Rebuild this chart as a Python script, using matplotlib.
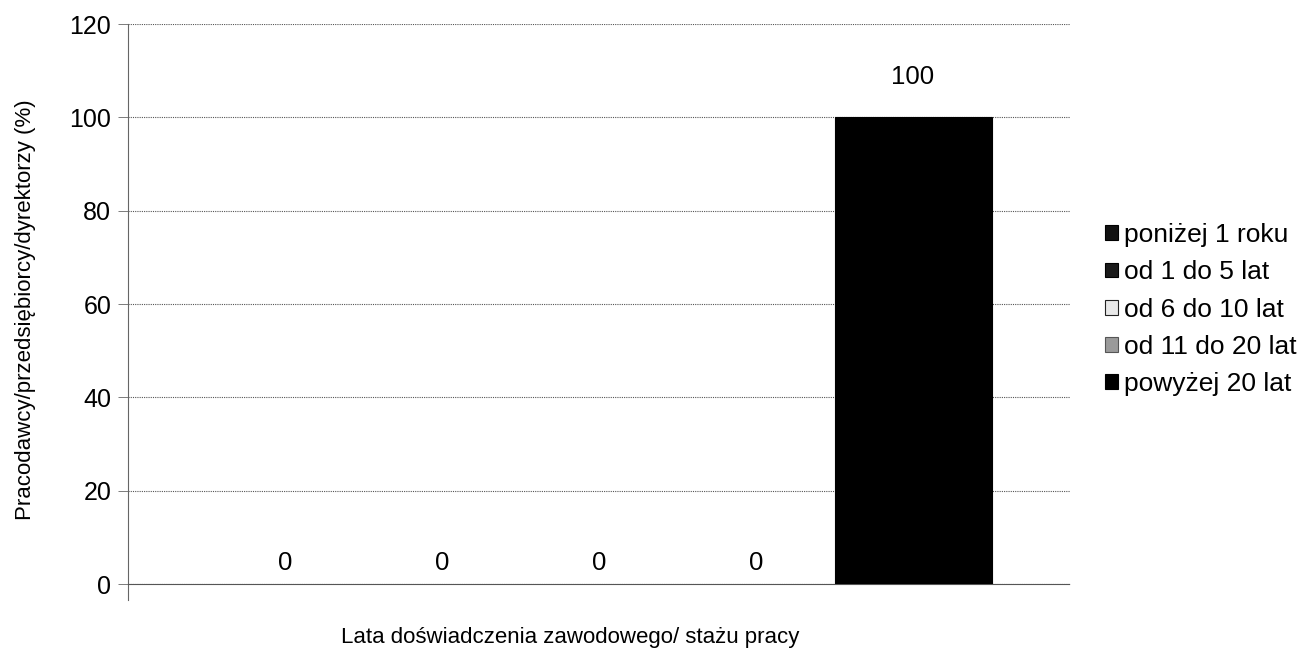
import matplotlib
matplotlib.use("Agg")
import matplotlib.pyplot as plt

series = ["poniżej 1 roku", "od 1 do 5 lat", "od 6 do 10 lat",
          "od 11 do 20 lat", "powyżej 20 lat"]
values = [0, 0, 0, 0, 100]
colors = ["#111111", "#1a1a1a", "#e8e8e8", "#9a9a9a", "#000000"]
edges = ["#000000", "#000000", "#222222", "#555555", "#000000"]
yticks = [0, 20, 40, 60, 80, 100, 120]

plt.rcParams["font.family"] = ["Liberation Sans", "DejaVu Sans"]

fig = plt.figure(figsize=(13.02, 6.5), dpi=100)
ax = fig.add_axes([128 / 1302, 1 - 584 / 650, 942 / 1302, 560 / 650])

offsets = [-2, -1, 0, 1, 2]
for off, v, c, e, name in zip(offsets, values, colors, edges, series):
    ax.bar(off, v, width=1.0, color=c, edgecolor=e,
           linewidth=0.8 if v else 0, label=name, zorder=3)
    pad = 6.0 if v else 2.0
    ax.text(off, v + pad, f"{v}", ha="center", va="bottom", fontsize=18.5)

ax.set_xlim(-3, 3)
ax.set_ylim(0, 120)
ax.set_yticks(yticks)
ax.set_xticks([])
ax.tick_params(axis="y", labelsize=18, length=7, width=0.6, color="#666666",
               pad=5)
ax.yaxis.grid(True, linestyle=(0, (1, 1)), color="#555555", linewidth=0.8,
              zorder=0)
for s in ["top", "right"]:
    ax.spines[s].set_visible(False)
ax.spines["left"].set_linestyle((0, (1, 1)))
ax.spines["left"].set_color("#666666")
ax.spines["bottom"].set_linestyle((0, (1, 1)))
ax.spines["bottom"].set_color("#555555")
ax.spines["left"].set_bounds(-3.5, 120)

ax.set_ylabel("Pracodawcy/przedsiębiorcy/dyrektorzy (%)", fontsize=16)
ax.yaxis.set_label_coords(-92 / 942, 0.49)
fig.text(570 / 1302, 1 - 638 / 650, "Lata doświadczenia zawodowego/ stażu pracy",
         ha="center", va="center", fontsize=16)

leg = ax.legend(loc="center left", bbox_to_anchor=(1.026, 0.49), frameon=False,
                fontsize=19, handlelength=0.5, handleheight=0.48,
                handletextpad=0.2, labelspacing=0.5, borderaxespad=0)
for h, e in zip(leg.legend_handles, edges):
    h.set_edgecolor(e)
    h.set_linewidth(0.8)

fig.savefig("out.png", dpi=100)
